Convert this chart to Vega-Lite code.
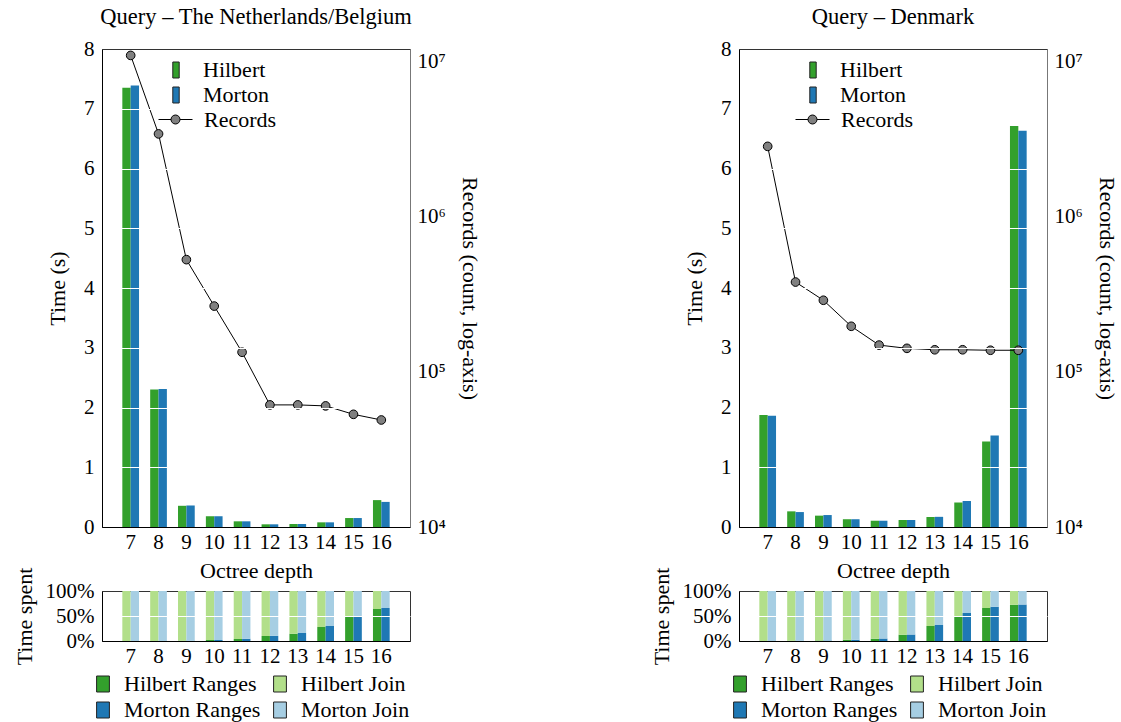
{
  "$schema": "https://vega.github.io/schema/vega-lite/v6.json",
  "padding": {"left": 12, "top": 5, "right": 5, "bottom": 2},
  "background": "white",
  "config": {
    "font": "Liberation Serif",
    "view": {"stroke": "#333", "strokeWidth": 1},
    "axis": {"ticks": false, "tickSize": 0, "domain": false, "grid": false, "labelFontSize": 21, "titleFontSize": 22, "titleFontWeight": "normal", "labelColor": "black", "titleColor": "black", "labelFont": "Liberation Serif", "titleFont": "Liberation Serif"},
    "axisX": {"labelAngle": 0},
    "legend": {"labelFontSize": 22, "labelColor": "black", "labelFont": "Liberation Serif", "padding": 0},
    "title": {"fontSize": 22.5, "fontWeight": "normal", "color": "black", "font": "Liberation Serif"}
  },
  "datasets": {
    "nl_time": [
      {"depth": 7, "method": "Hilbert", "time": 7.35}, {"depth": 7, "method": "Morton", "time": 7.39},
      {"depth": 8, "method": "Hilbert", "time": 2.30}, {"depth": 8, "method": "Morton", "time": 2.31},
      {"depth": 9, "method": "Hilbert", "time": 0.355}, {"depth": 9, "method": "Morton", "time": 0.36},
      {"depth": 10, "method": "Hilbert", "time": 0.18}, {"depth": 10, "method": "Morton", "time": 0.18},
      {"depth": 11, "method": "Hilbert", "time": 0.095}, {"depth": 11, "method": "Morton", "time": 0.095},
      {"depth": 12, "method": "Hilbert", "time": 0.045}, {"depth": 12, "method": "Morton", "time": 0.045},
      {"depth": 13, "method": "Hilbert", "time": 0.05}, {"depth": 13, "method": "Morton", "time": 0.05},
      {"depth": 14, "method": "Hilbert", "time": 0.078}, {"depth": 14, "method": "Morton", "time": 0.078},
      {"depth": 15, "method": "Hilbert", "time": 0.15}, {"depth": 15, "method": "Morton", "time": 0.15},
      {"depth": 16, "method": "Hilbert", "time": 0.45}, {"depth": 16, "method": "Morton", "time": 0.42}
    ],
    "nl_rec": [
      {"depth": 7, "records": 11000000, "series": "Records"},
      {"depth": 8, "records": 3430000, "series": "Records"},
      {"depth": 9, "records": 530000, "series": "Records"},
      {"depth": 10, "records": 266000, "series": "Records"},
      {"depth": 11, "records": 134000, "series": "Records"},
      {"depth": 12, "records": 61300, "series": "Records"},
      {"depth": 13, "records": 61300, "series": "Records"},
      {"depth": 14, "records": 60400, "series": "Records"},
      {"depth": 15, "records": 53300, "series": "Records"},
      {"depth": 16, "records": 49000, "series": "Records"}
    ],
    "dk_time": [
      {"depth": 7, "method": "Hilbert", "time": 1.875}, {"depth": 7, "method": "Morton", "time": 1.86},
      {"depth": 8, "method": "Hilbert", "time": 0.262}, {"depth": 8, "method": "Morton", "time": 0.25},
      {"depth": 9, "method": "Hilbert", "time": 0.19}, {"depth": 9, "method": "Morton", "time": 0.20},
      {"depth": 10, "method": "Hilbert", "time": 0.13}, {"depth": 10, "method": "Morton", "time": 0.13},
      {"depth": 11, "method": "Hilbert", "time": 0.105}, {"depth": 11, "method": "Morton", "time": 0.105},
      {"depth": 12, "method": "Hilbert", "time": 0.117}, {"depth": 12, "method": "Morton", "time": 0.117},
      {"depth": 13, "method": "Hilbert", "time": 0.167}, {"depth": 13, "method": "Morton", "time": 0.17},
      {"depth": 14, "method": "Hilbert", "time": 0.41}, {"depth": 14, "method": "Morton", "time": 0.435},
      {"depth": 15, "method": "Hilbert", "time": 1.43}, {"depth": 15, "method": "Morton", "time": 1.53},
      {"depth": 16, "method": "Hilbert", "time": 6.71}, {"depth": 16, "method": "Morton", "time": 6.63}
    ],
    "dk_rec": [
      {"depth": 7, "records": 2850000, "series": "Records"},
      {"depth": 8, "records": 380000, "series": "Records"},
      {"depth": 9, "records": 290000, "series": "Records"},
      {"depth": 10, "records": 197000, "series": "Records"},
      {"depth": 11, "records": 149000, "series": "Records"},
      {"depth": 12, "records": 142000, "series": "Records"},
      {"depth": 13, "records": 139000, "series": "Records"},
      {"depth": 14, "records": 139000, "series": "Records"},
      {"depth": 15, "records": 138000, "series": "Records"},
      {"depth": 16, "records": 138000, "series": "Records"}
    ],
    "nl_pct": [
      {"depth": 7, "method": "Hilbert", "component": "Hilbert Ranges", "pct": 0}, {"depth": 7, "method": "Hilbert", "component": "Hilbert Join", "pct": 100},
      {"depth": 7, "method": "Morton", "component": "Morton Ranges", "pct": 0}, {"depth": 7, "method": "Morton", "component": "Morton Join", "pct": 100},
      {"depth": 8, "method": "Hilbert", "component": "Hilbert Ranges", "pct": 0}, {"depth": 8, "method": "Hilbert", "component": "Hilbert Join", "pct": 100},
      {"depth": 8, "method": "Morton", "component": "Morton Ranges", "pct": 0}, {"depth": 8, "method": "Morton", "component": "Morton Join", "pct": 100},
      {"depth": 9, "method": "Hilbert", "component": "Hilbert Ranges", "pct": 0.5}, {"depth": 9, "method": "Hilbert", "component": "Hilbert Join", "pct": 99.5},
      {"depth": 9, "method": "Morton", "component": "Morton Ranges", "pct": 0.5}, {"depth": 9, "method": "Morton", "component": "Morton Join", "pct": 99.5},
      {"depth": 10, "method": "Hilbert", "component": "Hilbert Ranges", "pct": 2}, {"depth": 10, "method": "Hilbert", "component": "Hilbert Join", "pct": 98},
      {"depth": 10, "method": "Morton", "component": "Morton Ranges", "pct": 2}, {"depth": 10, "method": "Morton", "component": "Morton Join", "pct": 98},
      {"depth": 11, "method": "Hilbert", "component": "Hilbert Ranges", "pct": 4}, {"depth": 11, "method": "Hilbert", "component": "Hilbert Join", "pct": 96},
      {"depth": 11, "method": "Morton", "component": "Morton Ranges", "pct": 4.5}, {"depth": 11, "method": "Morton", "component": "Morton Join", "pct": 95.5},
      {"depth": 12, "method": "Hilbert", "component": "Hilbert Ranges", "pct": 10}, {"depth": 12, "method": "Hilbert", "component": "Hilbert Join", "pct": 90},
      {"depth": 12, "method": "Morton", "component": "Morton Ranges", "pct": 10.5}, {"depth": 12, "method": "Morton", "component": "Morton Join", "pct": 89.5},
      {"depth": 13, "method": "Hilbert", "component": "Hilbert Ranges", "pct": 14.5}, {"depth": 13, "method": "Hilbert", "component": "Hilbert Join", "pct": 85.5},
      {"depth": 13, "method": "Morton", "component": "Morton Ranges", "pct": 16}, {"depth": 13, "method": "Morton", "component": "Morton Join", "pct": 84},
      {"depth": 14, "method": "Hilbert", "component": "Hilbert Ranges", "pct": 28}, {"depth": 14, "method": "Hilbert", "component": "Hilbert Join", "pct": 72},
      {"depth": 14, "method": "Morton", "component": "Morton Ranges", "pct": 30}, {"depth": 14, "method": "Morton", "component": "Morton Join", "pct": 70},
      {"depth": 15, "method": "Hilbert", "component": "Hilbert Ranges", "pct": 48}, {"depth": 15, "method": "Hilbert", "component": "Hilbert Join", "pct": 52},
      {"depth": 15, "method": "Morton", "component": "Morton Ranges", "pct": 49.5}, {"depth": 15, "method": "Morton", "component": "Morton Join", "pct": 50.5},
      {"depth": 16, "method": "Hilbert", "component": "Hilbert Ranges", "pct": 64}, {"depth": 16, "method": "Hilbert", "component": "Hilbert Join", "pct": 36},
      {"depth": 16, "method": "Morton", "component": "Morton Ranges", "pct": 66}, {"depth": 16, "method": "Morton", "component": "Morton Join", "pct": 34}
    ],
    "dk_pct": [
      {"depth": 7, "method": "Hilbert", "component": "Hilbert Ranges", "pct": 0}, {"depth": 7, "method": "Hilbert", "component": "Hilbert Join", "pct": 100},
      {"depth": 7, "method": "Morton", "component": "Morton Ranges", "pct": 0}, {"depth": 7, "method": "Morton", "component": "Morton Join", "pct": 100},
      {"depth": 8, "method": "Hilbert", "component": "Hilbert Ranges", "pct": 0.5}, {"depth": 8, "method": "Hilbert", "component": "Hilbert Join", "pct": 99.5},
      {"depth": 8, "method": "Morton", "component": "Morton Ranges", "pct": 0.5}, {"depth": 8, "method": "Morton", "component": "Morton Join", "pct": 99.5},
      {"depth": 9, "method": "Hilbert", "component": "Hilbert Ranges", "pct": 1}, {"depth": 9, "method": "Hilbert", "component": "Hilbert Join", "pct": 99},
      {"depth": 9, "method": "Morton", "component": "Morton Ranges", "pct": 1}, {"depth": 9, "method": "Morton", "component": "Morton Join", "pct": 99},
      {"depth": 10, "method": "Hilbert", "component": "Hilbert Ranges", "pct": 2.5}, {"depth": 10, "method": "Hilbert", "component": "Hilbert Join", "pct": 97.5},
      {"depth": 10, "method": "Morton", "component": "Morton Ranges", "pct": 2.5}, {"depth": 10, "method": "Morton", "component": "Morton Join", "pct": 97.5},
      {"depth": 11, "method": "Hilbert", "component": "Hilbert Ranges", "pct": 4.5}, {"depth": 11, "method": "Hilbert", "component": "Hilbert Join", "pct": 95.5},
      {"depth": 11, "method": "Morton", "component": "Morton Ranges", "pct": 5}, {"depth": 11, "method": "Morton", "component": "Morton Join", "pct": 95},
      {"depth": 12, "method": "Hilbert", "component": "Hilbert Ranges", "pct": 12.5}, {"depth": 12, "method": "Hilbert", "component": "Hilbert Join", "pct": 87.5},
      {"depth": 12, "method": "Morton", "component": "Morton Ranges", "pct": 13}, {"depth": 12, "method": "Morton", "component": "Morton Join", "pct": 87},
      {"depth": 13, "method": "Hilbert", "component": "Hilbert Ranges", "pct": 30}, {"depth": 13, "method": "Hilbert", "component": "Hilbert Join", "pct": 70},
      {"depth": 13, "method": "Morton", "component": "Morton Ranges", "pct": 32}, {"depth": 13, "method": "Morton", "component": "Morton Join", "pct": 68},
      {"depth": 14, "method": "Hilbert", "component": "Hilbert Ranges", "pct": 49.5}, {"depth": 14, "method": "Hilbert", "component": "Hilbert Join", "pct": 50.5},
      {"depth": 14, "method": "Morton", "component": "Morton Ranges", "pct": 56}, {"depth": 14, "method": "Morton", "component": "Morton Join", "pct": 44},
      {"depth": 15, "method": "Hilbert", "component": "Hilbert Ranges", "pct": 66}, {"depth": 15, "method": "Hilbert", "component": "Hilbert Join", "pct": 34},
      {"depth": 15, "method": "Morton", "component": "Morton Ranges", "pct": 68.5}, {"depth": 15, "method": "Morton", "component": "Morton Join", "pct": 31.5},
      {"depth": 16, "method": "Hilbert", "component": "Hilbert Ranges", "pct": 72.5}, {"depth": 16, "method": "Hilbert", "component": "Hilbert Join", "pct": 27.5},
      {"depth": 16, "method": "Morton", "component": "Morton Ranges", "pct": 73}, {"depth": 16, "method": "Morton", "component": "Morton Join", "pct": 27}
    ]
  },
  "hconcat": [
    {
      "vconcat": [
        {
          "title": {"text": "Query – The Netherlands/Belgium", "frame": "group", "anchor": "middle", "offset": 10},
          "width": 308, "height": 478,
          "layer": [
            {
              "data": {"name": "nl_time"},
              "mark": {"type": "bar"},
              "encoding": {
                "x": {"field": "depth", "type": "ordinal", "scale": {"paddingInner": 0.4, "paddingOuter": 0.73}, "axis": {"title": "Octree depth", "labelPadding": 4, "titlePadding": 8, "domain": true, "domainColor": "black", "zindex": 2}},
                "xOffset": {"field": "method", "type": "nominal", "scale": {"domain": ["Hilbert", "Morton"]}},
                "y": {"field": "time", "type": "quantitative", "scale": {"domain": [0, 8], "nice": false}, "axis": {"title": "Time (s)", "values": [0, 1, 2, 3, 4, 5, 6, 7, 8], "grid": true, "gridColor": "white", "gridWidth": 1, "gridOpacity": {"condition": {"test": "datum.value === 0 || datum.value === 8", "value": 0}, "value": 1}, "domain": true, "domainColor": "black", "zindex": 1, "labelPadding": 8, "titlePadding": 14}},
                "color": {"field": "method", "type": "nominal", "scale": {"domain": ["Hilbert", "Morton"], "range": ["#33a02c", "#1f78b4"]},
                  "legend": {"orient": "none", "legendX": 63, "legendY": 10, "title": null, "symbolType": "M-0.4,-1H0.4V1H-0.4Z", "symbolSize": 256, "labelOffset": 16, "rowPadding": 3, "symbolStrokeColor": "#222", "symbolStrokeWidth": 1}}
              }
            },
            {
              "data": {"name": "nl_rec"},
              "layer": [
                {
                  "mark": {"type": "line", "strokeWidth": 1},
                  "encoding": {
                    "x": {"field": "depth", "type": "ordinal", "axis": {"title": "Octree depth", "labelPadding": 4, "titlePadding": 8, "domain": true, "domainColor": "black", "zindex": 2}},
                    "y": {"field": "records", "type": "quantitative", "scale": {"type": "log", "domain": [10000, 12100000], "nice": false}, "axis": {"orient": "right", "title": "Records (count, log-axis)", "values": [10000, 100000, 1000000, 10000000], "labelExpr": "datum.value == 10000 ? '10⁴' : datum.value == 100000 ? '10⁵' : datum.value == 1000000 ? '10⁶' : '10⁷'", "labelPadding": 7, "titlePadding": 12, "domain": true, "domainColor": "#777", "zindex": 2}},
                    "stroke": {"field": "series", "type": "nominal", "scale": {"domain": ["Records"], "range": ["black"]},
                      "legend": {"orient": "none", "legendX": 56, "legendY": 53, "title": null, "symbolType": "M-1,0L-0.265,0M0.265,0L1,0M0.265,0A0.265,0.265,0,1,1,-0.265,0A0.265,0.265,0,1,1,0.265,0Z", "symbolSize": 1156, "labelOffset": 11, "symbolStrokeWidth": 1, "symbolFillColor": "#808080", "encode": {"symbols": {"update": {"fill": {"value": "#808080"}, "stroke": {"value": "black"}}}}}}
                  }
                },
                {
                  "mark": {"type": "circle", "size": 75, "fill": "#808080", "stroke": "black", "strokeWidth": 1, "opacity": 1},
                  "encoding": {
                    "x": {"field": "depth", "type": "ordinal", "axis": {"title": "Octree depth", "labelPadding": 4, "titlePadding": 8, "domain": true, "domainColor": "black", "zindex": 2}},
                    "y": {"field": "records", "type": "quantitative", "scale": {"type": "log", "domain": [10000, 12100000], "nice": false}, "axis": {"orient": "right", "title": "Records (count, log-axis)", "values": [10000, 100000, 1000000, 10000000], "labelExpr": "datum.value == 10000 ? '10⁴' : datum.value == 100000 ? '10⁵' : datum.value == 1000000 ? '10⁶' : '10⁷'", "labelPadding": 7, "titlePadding": 12, "domain": true, "domainColor": "#777", "zindex": 2}}
                  }
                }
              ]
            }
          ],
          "resolve": {"scale": {"y": "independent"}}
        },
        {
          "width": 308, "height": 50,
          "data": {"name": "nl_pct"},
          "mark": {"type": "bar"},
          "encoding": {
            "x": {"field": "depth", "type": "ordinal", "scale": {"paddingInner": 0.4, "paddingOuter": 0.73}, "axis": {"title": null, "labelPadding": 4, "domain": true, "domainColor": "black", "zindex": 2}},
            "xOffset": {"field": "method", "type": "nominal", "scale": {"domain": ["Hilbert", "Morton"]}},
            "y": {"field": "pct", "type": "quantitative", "stack": "zero", "scale": {"domain": [0, 100], "nice": false}, "axis": {"title": "Time spent", "values": [0, 50, 100], "labelExpr": "datum.value + '%'", "grid": true, "gridColor": "white", "gridOpacity": {"condition": {"test": "datum.value === 0 || datum.value === 100", "value": 0}, "value": 1}, "domain": true, "domainColor": "black", "zindex": 1, "labelPadding": 8, "titlePadding": 9}},
            "color": {"field": "component", "type": "nominal", "scale": {"domain": ["Hilbert Ranges", "Hilbert Join", "Morton Ranges", "Morton Join"], "range": ["#33a02c", "#b2df8a", "#1f78b4", "#a6cee3"]},
              "legend": {"orient": "none", "legendX": -10, "legendY": 82, "columns": 2, "direction": "horizontal", "title": null, "symbolType": "M-0.8,-1H0.8V1H-0.8Z", "symbolSize": 256, "labelOffset": 10, "columnPadding": 8, "rowPadding": 4, "symbolStrokeColor": "#222", "symbolStrokeWidth": 1}},
            "order": {"field": "component", "sort": "descending"}
          }
        }
      ],
      "spacing": 64,
      "bounds": "flush",
      "resolve": {"scale": {"color": "independent"}, "legend": {"color": "independent"}}
    },
    {
      "vconcat": [
        {
          "title": {"text": "Query – Denmark", "frame": "group", "anchor": "middle", "offset": 10},
          "width": 308, "height": 478,
          "layer": [
            {
              "data": {"name": "dk_time"},
              "mark": {"type": "bar"},
              "encoding": {
                "x": {"field": "depth", "type": "ordinal", "scale": {"paddingInner": 0.4, "paddingOuter": 0.73}, "axis": {"title": "Octree depth", "labelPadding": 4, "titlePadding": 8, "domain": true, "domainColor": "black", "zindex": 2}},
                "xOffset": {"field": "method", "type": "nominal", "scale": {"domain": ["Hilbert", "Morton"]}},
                "y": {"field": "time", "type": "quantitative", "scale": {"domain": [0, 8], "nice": false}, "axis": {"title": "Time (s)", "values": [0, 1, 2, 3, 4, 5, 6, 7, 8], "grid": true, "gridColor": "white", "gridWidth": 1, "gridOpacity": {"condition": {"test": "datum.value === 0 || datum.value === 8", "value": 0}, "value": 1}, "domain": true, "domainColor": "black", "zindex": 1, "labelPadding": 8, "titlePadding": 14}},
                "color": {"field": "method", "type": "nominal", "scale": {"domain": ["Hilbert", "Morton"], "range": ["#33a02c", "#1f78b4"]},
                  "legend": {"orient": "none", "legendX": 63, "legendY": 10, "title": null, "symbolType": "M-0.4,-1H0.4V1H-0.4Z", "symbolSize": 256, "labelOffset": 16, "rowPadding": 3, "symbolStrokeColor": "#222", "symbolStrokeWidth": 1}}
              }
            },
            {
              "data": {"name": "dk_rec"},
              "layer": [
                {
                  "mark": {"type": "line", "strokeWidth": 1},
                  "encoding": {
                    "x": {"field": "depth", "type": "ordinal", "axis": {"title": "Octree depth", "labelPadding": 4, "titlePadding": 8, "domain": true, "domainColor": "black", "zindex": 2}},
                    "y": {"field": "records", "type": "quantitative", "scale": {"type": "log", "domain": [10000, 12100000], "nice": false}, "axis": {"orient": "right", "title": "Records (count, log-axis)", "values": [10000, 100000, 1000000, 10000000], "labelExpr": "datum.value == 10000 ? '10⁴' : datum.value == 100000 ? '10⁵' : datum.value == 1000000 ? '10⁶' : '10⁷'", "labelPadding": 7, "titlePadding": 12, "domain": true, "domainColor": "#777", "zindex": 2}},
                    "stroke": {"field": "series", "type": "nominal", "scale": {"domain": ["Records"], "range": ["black"]},
                      "legend": {"orient": "none", "legendX": 56, "legendY": 53, "title": null, "symbolType": "M-1,0L-0.265,0M0.265,0L1,0M0.265,0A0.265,0.265,0,1,1,-0.265,0A0.265,0.265,0,1,1,0.265,0Z", "symbolSize": 1156, "labelOffset": 11, "symbolStrokeWidth": 1, "symbolFillColor": "#808080", "encode": {"symbols": {"update": {"fill": {"value": "#808080"}, "stroke": {"value": "black"}}}}}}
                  }
                },
                {
                  "mark": {"type": "circle", "size": 75, "fill": "#808080", "stroke": "black", "strokeWidth": 1, "opacity": 1},
                  "encoding": {
                    "x": {"field": "depth", "type": "ordinal", "axis": {"title": "Octree depth", "labelPadding": 4, "titlePadding": 8, "domain": true, "domainColor": "black", "zindex": 2}},
                    "y": {"field": "records", "type": "quantitative", "scale": {"type": "log", "domain": [10000, 12100000], "nice": false}, "axis": {"orient": "right", "title": "Records (count, log-axis)", "values": [10000, 100000, 1000000, 10000000], "labelExpr": "datum.value == 10000 ? '10⁴' : datum.value == 100000 ? '10⁵' : datum.value == 1000000 ? '10⁶' : '10⁷'", "labelPadding": 7, "titlePadding": 12, "domain": true, "domainColor": "#777", "zindex": 2}}
                  }
                }
              ]
            }
          ],
          "resolve": {"scale": {"y": "independent"}}
        },
        {
          "width": 308, "height": 50,
          "data": {"name": "dk_pct"},
          "mark": {"type": "bar"},
          "encoding": {
            "x": {"field": "depth", "type": "ordinal", "scale": {"paddingInner": 0.4, "paddingOuter": 0.73}, "axis": {"title": null, "labelPadding": 4, "domain": true, "domainColor": "black", "zindex": 2}},
            "xOffset": {"field": "method", "type": "nominal", "scale": {"domain": ["Hilbert", "Morton"]}},
            "y": {"field": "pct", "type": "quantitative", "stack": "zero", "scale": {"domain": [0, 100], "nice": false}, "axis": {"title": "Time spent", "values": [0, 50, 100], "labelExpr": "datum.value + '%'", "grid": true, "gridColor": "white", "gridOpacity": {"condition": {"test": "datum.value === 0 || datum.value === 100", "value": 0}, "value": 1}, "domain": true, "domainColor": "black", "zindex": 1, "labelPadding": 8, "titlePadding": 9}},
            "color": {"field": "component", "type": "nominal", "scale": {"domain": ["Hilbert Ranges", "Hilbert Join", "Morton Ranges", "Morton Join"], "range": ["#33a02c", "#b2df8a", "#1f78b4", "#a6cee3"]},
              "legend": {"orient": "none", "legendX": -10, "legendY": 82, "columns": 2, "direction": "horizontal", "title": null, "symbolType": "M-0.8,-1H0.8V1H-0.8Z", "symbolSize": 256, "labelOffset": 10, "columnPadding": 8, "rowPadding": 4, "symbolStrokeColor": "#222", "symbolStrokeWidth": 1}},
            "order": {"field": "component", "sort": "descending"}
          }
        }
      ],
      "spacing": 64,
      "bounds": "flush",
      "resolve": {"scale": {"color": "independent"}, "legend": {"color": "independent"}}
    }
  ],
  "spacing": 637,
  "bounds": "flush",
  "resolve": {"scale": {"color": "independent", "stroke": "independent", "x": "independent", "y": "independent"}, "legend": {"color": "independent", "stroke": "independent"}}
}
